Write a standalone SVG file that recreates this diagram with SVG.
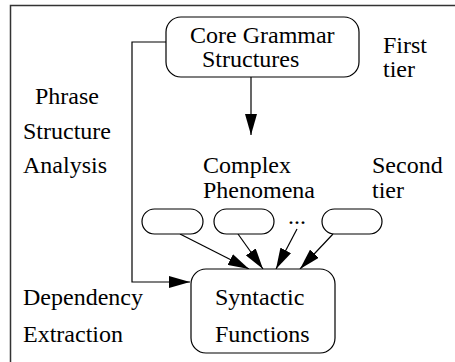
<svg xmlns="http://www.w3.org/2000/svg" width="455" height="362" viewBox="0 0 455 362">
<style>
text{font-family:"Liberation Serif","Times New Roman",serif;font-size:24px;fill:#000}
.box{fill:#fff;stroke:#000;stroke-width:1.2}
.conn{fill:none;stroke:#000;stroke-width:1.2}
</style>
<defs>
<marker id="ah" markerUnits="userSpaceOnUse" viewBox="0 0 21 12" markerWidth="21" markerHeight="12" refX="21" refY="6" orient="auto">
<path d="M0,0 L21,6 L0,12 z" fill="#000"/>
</marker>
</defs>
<rect width="455" height="362" fill="#fff"/>
<path d="M10.5,362 V5.5 H455" fill="none" stroke="#333" stroke-width="1.5"/>
<g id="connectors">
<path class="conn" d="M166,42 H132 V282 H190" marker-end="url(#ah)"/>
<path class="conn" d="M251,77 V135" marker-end="url(#ah)"/>
<path class="conn" d="M180,234 L249,269" marker-end="url(#ah)"/>
<path class="conn" d="M238,234 L263,269" marker-end="url(#ah)"/>
<path class="conn" d="M297,229 L276,269" marker-end="url(#ah)"/>
<path class="conn" d="M333,234 L300,269" marker-end="url(#ah)"/>
</g>
<g id="core">
<rect class="box" x="166" y="17" width="193" height="60" rx="15"/>
<text x="190" y="43">Core Grammar</text>
<text x="202" y="67">Structures</text>
</g>
<g id="first-tier">
<text x="383" y="53">First</text>
<text x="383" y="77">tier</text>
</g>
<g id="phrase-structure">
<text x="35" y="104">Phrase</text>
<text x="23" y="139">Structure</text>
<text x="23" y="173">Analysis</text>
</g>
<g id="complex">
<text x="203" y="173">Complex</text>
<text x="203" y="198">Phenomena</text>
</g>
<g id="second-tier">
<text x="372" y="173">Second</text>
<text x="372" y="198">tier</text>
</g>
<g id="pill1"><rect class="box" x="142" y="209" width="61" height="25" rx="12.5"/></g>
<g id="pill2"><rect class="box" x="214" y="209" width="60" height="25" rx="12.5"/></g>
<g id="dots"><text x="288" y="224">...</text></g>
<g id="pill3"><rect class="box" x="322" y="209" width="60" height="25" rx="12.5"/></g>
<g id="dependency">
<text x="23" y="305">Dependency</text>
<text x="23" y="342">Extraction</text>
</g>
<g id="syntactic">
<rect class="box" x="191" y="269" width="144" height="84" rx="15"/>
<text x="215" y="305">Syntactic</text>
<text x="215" y="342">Functions</text>
</g>
</svg>
